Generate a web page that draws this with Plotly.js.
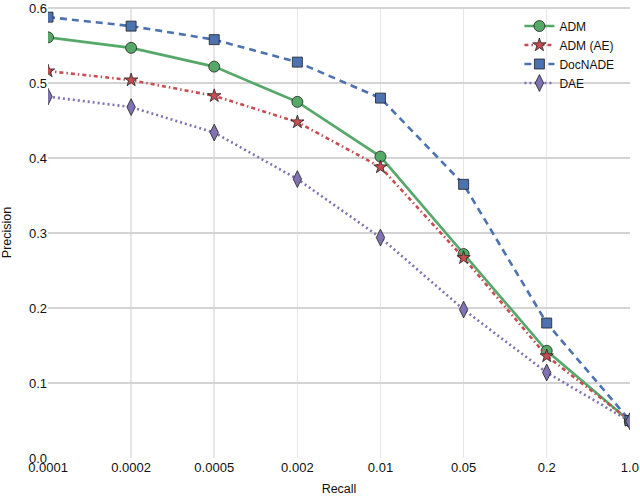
<!DOCTYPE html>
<html>
<head>
<meta charset="utf-8">
<script src="https://cdn.plot.ly/plotly-3.0.1.min.js"></script>
<style>
  html, body { margin: 0; padding: 0; background: #fff; }
  #chart { width: 640px; height: 496px; }
</style>
</head>
<body>
<div id="chart"></div>
<script>
// recall levels (equally spaced on the x axis)
var recall = ['0.0001', '0.0002', '0.0005', '0.002', '0.01', '0.05', '0.2', '1.0'];

// precision per model
var adm     = [0.561, 0.547, 0.522, 0.475, 0.402, 0.272, 0.143, 0.049];
var admAE   = [0.516, 0.504, 0.483, 0.448, 0.388, 0.267, 0.136, 0.050];
var docnade = [0.588, 0.576, 0.558, 0.528, 0.480, 0.365, 0.180, 0.050];
var dae     = [0.482, 0.468, 0.434, 0.372, 0.294, 0.198, 0.114, 0.049];

// y ticks
var yTicks = [0, 0.1, 0.2, 0.3, 0.4, 0.5, 0.6];
var yTickText = ['0.0', '0.1', '0.2', '0.3', '0.4', '0.5', '0.6'];

var font = 'Liberation Sans, Arial, sans-serif';

function series(name, y, color, dash, symbol, size) {
    return {
        x: recall, y: y, name: name, type: 'scatter', mode: 'lines+markers',
        line: {color: color, width: 2.6, dash: dash},
        marker: {symbol: symbol, size: size, color: color, line: {color: '#222', width: 0.8}}
    };
}

var traces = [
    series('ADM', adm, '#55A868', 'solid', 'circle', 11),
    series('ADM (AE)', admAE, '#C44E52', '4px,3px,1.5px,3px', 'star', 10),
    series('DocNADE', docnade, '#4C72B0', '7px,5px', 'square', 10),
    series('DAE', dae, '#8172B2', '2px,3px', 'diamond-tall', 12)
];

var layout = {
    width: 640, height: 496,
    margin: {l: 48, r: 10, t: 7, b: 38},
    paper_bgcolor: '#fff', plot_bgcolor: '#fff',
    font: {family: font, size: 13, color: '#111'},
    showlegend: true,
    legend: {x: 0.81, y: 0.99, xanchor: 'left', yanchor: 'top', bgcolor: 'rgba(0,0,0,0)',
             font: {family: font, size: 12, color: '#111'}},
    xaxis: {
        type: 'category', range: [0, 7.002], showgrid: true, gridcolor: '#e6e6e6', gridwidth: 1.5,
        zeroline: false, showline: false, ticks: '', ticklabeloverflow: 'allow',
        title: {text: 'Recall', standoff: 10, font: {size: 12.5}}
    },
    yaxis: {
        range: [0, 0.6015], tickmode: 'array', tickvals: yTicks, ticktext: yTickText,
        showgrid: true, gridcolor: '#d4d4d4', gridwidth: 1.5, ticklabeloverflow: 'allow',
        zeroline: false, showline: false, ticks: '',
        title: {text: 'Precision', standoff: 14, font: {size: 12.5}}
    }
};

Plotly.newPlot('chart', traces, layout, {displayModeBar: false, staticPlot: true});
</script>
</body>
</html>
